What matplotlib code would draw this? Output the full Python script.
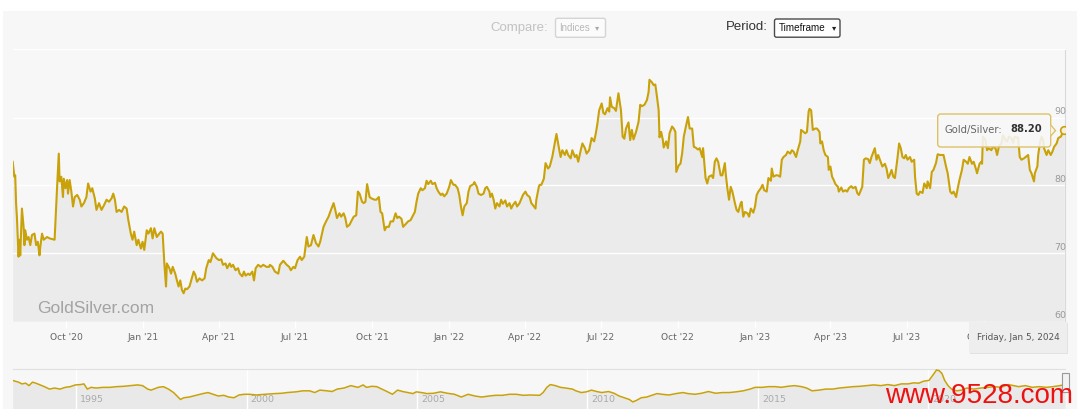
import numpy as np
import matplotlib
matplotlib.use('Agg')
import matplotlib.pyplot as plt
from matplotlib.patches import Rectangle, FancyBboxPatch, Polygon
from matplotlib.transforms import Affine2D

W, H = 1080, 409
GOLD = '#c9a20a'
plt.rcParams['font.family'] = ['DejaVu Sans']

# gold/silver ratio, days counted from start
start = np.datetime64('2020-07-29')
days_1 = [0, 2, 3, 4, 5, 7, 8, 9, 11, 13, 14, 15, 17, 19, 21, 23, 26, 28, 30, 32, 33, 35, 37, 41, 44,
          50, 52, 53, 55, 56, 58, 60, 61, 63, 65, 66, 68, 70, 72, 74, 77, 80, 82, 85, 88, 90, 93, 95,
          98, 100, 103, 106, 109, 112, 115, 118, 120, 122, 124, 127, 130, 133, 136, 138, 141, 143,
          145, 148, 150, 153, 155, 157, 160, 162, 165, 167, 169, 172, 175, 177, 179, 181, 183, 184,
          187, 189, 191, 194, 196, 198, 200, 202, 204, 206, 208, 211, 213, 216, 218, 220, 223, 226,
          229, 231, 234, 236, 239, 243, 246, 249, 251, 254, 256, 259, 261, 263, 266, 269, 271, 274,
          276, 278, 281, 283, 286, 288, 290, 293, 296, 299, 303, 306]
ratio_1 = [83.5, 81.3, 81.5, 77.4, 75.4, 69.5, 72, 69.7, 76.6, 73.9, 71.2, 73.4, 72, 72.4, 71.2, 72.7,
           72.9, 71.2, 71.7, 69.7, 71, 72.9, 72, 72.4, 72.2,
           72, 77.4, 79.8, 84.7, 80.6, 81.3, 78.3, 81, 79.6, 80.8, 78.8, 80.8, 79.1, 76.9, 78.3, 78.6,
           77.9, 76.9, 77.4, 78.3, 80.3, 79.1, 79.6,
           78.1, 76.4, 77.4, 76.4, 77.1, 77.9, 77.6, 78.1, 78.8, 77.9, 76.1, 76.4, 76.1, 76.9, 76.6,
           74.9, 72.9, 72,
           73.2, 71.2, 72, 70.7, 71.7, 70.5, 73.4, 72.9, 73.7, 72.2, 73.7, 72.4, 72.9, 73.2, 72.9,
           68.5, 65.1, 68.5,
           67.8, 67, 68, 67, 66, 65.1, 66, 64.6, 64.1, 64.8, 64.7, 65.1, 66, 67.3, 66.8, 65.8, 66.3, 66,
           66.3, 67.8, 69, 68.7, 70, 69.3, 69, 69.1, 68.3, 68.5, 67.8, 68.5, 68, 68.3, 67.5, 67.8, 67,
           66.6,
           67.3, 66.7, 67, 66.8, 67.3, 66, 67.8, 68.3, 68, 68.3, 68, 68]

days_2 = [307, 310, 313, 317, 319, 323, 327, 330, 332, 335, 337, 340, 343, 345, 348, 351, 353, 356,
          359, 362, 365, 367, 371, 374, 377, 379, 383, 385, 387, 390, 392, 395, 397, 399, 402, 404,
          407, 410, 412, 414, 417, 419, 421, 423, 426, 428, 432, 434, 437, 439, 441, 444, 446, 449,
          451, 454, 457, 459, 461, 464, 466, 469, 472, 475, 477, 480, 482, 484, 487, 489, 492, 494,
          496, 499, 501, 504, 506, 508, 511, 513, 515, 518, 521, 523, 526, 528, 531, 533, 535, 537,
          539, 542, 544, 546, 550, 551, 554, 556, 559, 562, 564, 566, 569, 570, 572, 574, 576, 578,
          581, 583, 585, 588, 590, 593, 595, 597, 600, 602, 605, 607, 609, 612, 614, 617, 619, 621,
          624, 625, 628, 629]
ratio_2 = [68.3, 68, 67.3, 67, 68.3, 68.9, 68.3, 68, 67.5, 68, 67.8, 69, 69.5, 69, 69.5, 72.4, 71, 71.2,
           72.7, 71.5, 71, 71.7, 73.9, 74.7, 75.4, 76.1, 77.4, 76.4, 75.2, 75.9, 75.4, 75.9, 75.2,
           73.9, 74.2, 74.7,
           75.4, 75.6, 79.1, 78.8, 77.6, 77.4, 77.6, 80.2, 78.3, 78.1, 77.9, 77.9, 78.3, 76.1, 75.9,
           73.4, 73.9, 73.9,
           74.7, 74.7, 75.9, 75.2, 75.4, 75.1, 73.9, 74.3, 74.7, 74.9, 75.4, 76.1, 77.6, 78.8, 79.6,
           79.3, 79.6, 80.7,
           80.2, 80.7, 80.2, 80.4, 79.6, 79.1, 78.6, 78.8, 78.4, 78.8, 79.8, 80.8, 80.1, 80.1, 79.6,
           78.6, 76.9, 75.6,
           76.9, 77.4, 79.1, 79.9, 80.2, 80.5, 79.8, 78.8, 78.6, 78.8, 79.6, 79.8, 79.1, 78.3, 78.8,
           77.9, 76.6, 77.4,
           76.9, 77.9, 77.3, 77.8, 76.9, 77.4, 76.6, 77.1, 77.6, 76.9, 77.4, 78, 78.6, 79.1, 78.6,
           78.3, 77.4, 77.1,
           76.6, 77.9, 79.8, 80.1]

days_3 = [631, 634, 636, 639, 641, 644, 647, 649, 652, 654, 656, 659, 661, 663, 666, 668, 671, 673,
          675, 678, 680, 683, 685, 688, 691, 694, 696, 698, 700, 703, 705, 707, 710, 712, 713, 715,
          718, 720, 723, 726, 728, 730, 732, 735, 737, 739, 741, 744, 747, 749, 751, 754, 757, 759,
          760, 763, 765, 767, 769, 771, 772, 774, 776, 777, 780, 782, 784, 787, 789, 791, 792, 795,
          797, 799, 801, 803, 806, 808, 811, 813, 815, 818, 820, 823, 824, 827, 829, 831, 834, 836,
          838, 840, 842, 845, 847, 850, 851, 853, 855, 857, 859, 862, 864, 866, 869, 870, 872, 874,
          877, 879, 881, 884, 886, 888, 890, 893, 895, 897, 900, 902, 905, 906, 908, 911, 913, 916,
          918, 920, 923, 925, 928, 930, 932, 935, 937, 940, 941, 944, 946, 948, 950]
ratio_3 = [80.1, 81, 83.3, 82.5, 82.8, 84.2, 86.2, 87.6, 85.5, 84.2, 85.2, 84.5, 85.2, 84.5, 84, 85.2,
           84.2, 84.5,
           83.5, 85.2, 86.2, 85.5, 84.7, 85.2, 87, 86.5, 87.7, 89.2, 91.1, 92.1, 90.7, 90.5, 91.4,
           90.9, 93, 91.6,
           91.4, 91, 93.6, 91.1, 87.2, 86.9, 88.4, 89.3, 86.7, 88.2, 86.8, 87.9, 89.4, 91.9, 91.7,
           91.9, 92.6, 93.8,
           95.6, 95.2, 94.8, 94.9, 93.1, 91.1, 87.1, 87.9, 86.7, 85.6, 86.5, 85.5, 87.7, 88.7, 88.4,
           87.9, 82, 83,
           83.2, 84.7, 87.2, 88.4, 90.1, 88.4, 88.4, 85.7, 85.6, 85.3, 85.5, 84.2, 85.5, 81.1, 80.3,
           81.3, 81.5, 81.1,
           83.5, 84, 83.5, 81.5, 81.5, 83.3, 81.8, 79.6, 77.9, 79.8, 79.1, 77.4, 76.4, 76.1, 77.4,
           77.6, 75.4, 76.1,
           75.9, 75.4, 76.6, 76, 76.9, 78.6, 79.1, 79.6, 80.1, 79.3, 79.1, 81.1, 80.7, 82.5, 81.3,
           81.5, 81.5, 81.3,
           83.8, 84.2, 84.5, 85, 84.7, 85.2, 85, 84.2, 85.2, 86.5, 88.2, 87.9, 87.7, 87.9, 90.9]

days_4 = [951, 953, 955, 958, 960, 963, 964, 966, 968, 970, 973, 974, 976, 978, 980, 982, 985, 986,
          989, 991, 994, 996, 998, 1001, 1003, 1006, 1008, 1010, 1012, 1014, 1016, 1018, 1021, 1023,
          1025, 1028, 1029, 1031, 1033, 1036, 1038, 1041, 1043, 1045, 1047, 1049, 1051, 1053, 1056,
          1058, 1060, 1062, 1064, 1066, 1068, 1071, 1073, 1076, 1077, 1079, 1081, 1083, 1086, 1088,
          1091, 1092, 1095, 1097, 1099, 1102, 1104, 1107, 1109, 1111, 1114, 1116, 1119, 1121, 1123,
          1126, 1128, 1130, 1133, 1135, 1138, 1140, 1142, 1145, 1147, 1150, 1151, 1154, 1156, 1157,
          1158, 1161, 1163, 1165, 1168, 1170, 1173, 1175, 1177, 1180, 1182, 1185, 1187, 1189, 1192,
          1194, 1196, 1199, 1200, 1202, 1204, 1207, 1209, 1212, 1214, 1216, 1219, 1220, 1223, 1224,
          1226, 1228, 1230, 1231, 1234, 1236, 1239, 1241, 1243, 1246, 1248, 1251, 1253, 1255]
ratio_4 = [91.3, 91.1, 88.2, 88.4, 88.4, 87.9, 86.2, 86.5, 85.2, 84.5, 84.2, 82.3, 82.8, 81.3, 80.8,
           80.2, 79.8, 79.1,
           79.7, 79.1, 79.3, 79.1, 79.6, 79.9, 79.6, 79.8, 78.9, 78.6, 79.2, 79.8, 83.8, 84, 83.9,
           83.3,
           84.2, 85.2, 85.5, 83.8, 84.5, 83.5, 82.8, 83.2, 82.5, 81.1, 81.6, 82.3, 81.3, 81.1, 84,
           86.2, 85.5, 84.2, 84, 84.5, 83.8, 84.2, 83.5, 83.8, 81.3, 78.8, 78.6, 79.1, 78.9, 80.3,
           79.6, 80.6, 79.6, 82, 82.3, 83.3, 84.6, 84.5, 84.5, 84.5, 82.8, 81.8, 79.1, 78.8, 79.1,
           78.3, 79.6, 80.8, 82.3, 83.8, 83.5, 83.2, 84.2, 83.2, 83.5, 82.3, 81.8, 83.2, 83.5, 83.2,
           87.2, 86.7, 85.2, 85.5, 85.2, 85.7, 85.5, 84.5, 85.7, 86.2, 87.4, 86.7, 86.5, 87.2, 87,
           86.3, 87.2, 87, 87.1, 84.2, 83.8, 84, 84.2, 84.5, 82.3, 81.8, 80.6, 81.8, 82.8, 84.5,
           86.2, 87.2, 86.7, 85.5, 84.5, 85.2, 84.5, 85, 85.7, 86.2, 87, 87.2, 87.7, 88.2]

quarters = ['2020-10-01', '2021-01-01', '2021-04-01', '2021-07-01', '2021-10-01', '2022-01-01',
            '2022-04-01', '2022-07-01', '2022-10-01', '2023-01-01', '2023-04-01', '2023-07-01',
            '2023-10-01']
quarter_labels = ["Oct '20", "Jan '21", "Apr '21", "Jul '21", "Oct '21", "Jan '22", "Apr '22",
                  "Jul '22", "Oct '22", "Jan '23", "Apr '23", "Jul '23", "Oct '23"]
y_ticks = [60, 70, 80, 90]

# navigator (long history), decimal years
nav_year = [1993.14, 1993.31, 1993.41, 1993.52, 1993.62, 1993.72, 1993.82, 1993.92, 1994.07, 1994.22,
            1994.37, 1994.53, 1994.68, 1994.83, 1994.98, 1995.13, 1995.23, 1995.33, 1995.44, 1995.59,
            1995.79, 1995.99, 1996.19, 1996.40, 1996.60, 1996.80, 1996.95, 1997.10, 1997.20, 1997.41,
            1997.56, 1997.71, 1997.86, 1997.96, 1998.06, 1998.16, 1998.32, 1998.52, 1998.72, 1998.87,
            1999.02, 1999.17, 1999.33, 1999.48, 1999.63, 1999.78, 1999.93, 2000.08, 2000.29, 2000.54,
            2000.84, 2001.04, 2001.19, 2001.45, 2001.65, 2001.85, 2002.00, 2002.15, 2002.36, 2002.51,
            2002.66, 2002.86, 2003.06, 2003.27, 2003.42, 2003.52, 2003.67, 2003.82, 2003.97, 2004.12,
            2004.28, 2004.43, 2004.58, 2004.73, 2004.88, 2004.98, 2005.13, 2005.29, 2005.49, 2005.69,
            2005.89, 2006.10, 2006.30, 2006.50, 2006.70, 2006.90, 2007.11, 2007.31, 2007.51, 2007.71,
            2007.91, 2008.12, 2008.32, 2008.60, 2008.70, 2008.81, 2008.91, 2009.06, 2009.21, 2009.36,
            2009.56, 2009.66, 2009.82, 2009.97, 2010.12, 2010.27, 2010.42, 2010.62, 2010.78, 2010.93,
            2011.08, 2011.23, 2011.33, 2011.43, 2011.58, 2011.74, 2011.89, 2012.04, 2012.19, 2012.39,
            2012.60, 2012.80, 2012.95, 2013.15, 2013.35, 2013.55, 2013.76, 2013.96, 2014.16, 2014.36,
            2014.57, 2014.77, 2014.92, 2015.12, 2015.32, 2015.52, 2015.68, 2015.88, 2016.08, 2016.28,
            2016.43, 2016.59, 2016.79, 2016.99, 2017.19, 2017.39, 2017.60, 2017.80, 2018.00, 2018.20,
            2018.40, 2018.61, 2018.81, 2019.01, 2019.21, 2019.41, 2019.57, 2019.72, 2019.87, 2020.02,
            2020.17, 2020.24, 2020.32, 2020.40, 2020.48, 2020.58, 2020.68, 2020.83, 2020.98, 2021.13,
            2021.33, 2021.54, 2021.74, 2021.94, 2022.14, 2022.35, 2022.50, 2022.65, 2022.85, 2023.05,
            2023.25, 2023.46, 2023.66, 2023.86, 2024.01]
nav_ratio = [102.1, 96.7, 91.3, 93.5, 85.9, 96.7, 93.5, 89.2, 82.7, 75.1,
             78.4, 75.1, 80.5, 82.7, 88.1, 89.2, 91.3, 75.1, 80.5, 78.4,
             80.5, 80.5, 82.7, 83.8, 85.9, 88.1, 85.9, 75.1, 71.9, 80.5,
             82.7, 75.1, 64.3, 53.5, 42.7, 48.1, 50.3, 55.7, 61.1, 64.3,
             58.9, 53.5, 55.7, 50.3, 48.1, 56.7, 58.9, 58.9, 56.7, 58.9,
             61.1, 62.1, 64.3, 66.5, 69.7, 69.7, 64.3, 71.9, 69.7, 67.5,
             75.1, 78.4, 85.9, 80.5, 88.1, 80.5, 83.8, 82.7, 75.1, 67.5,
             58.9, 71.9, 67.5, 64.3, 61.1, 66.5, 64.3, 61.1, 62.1, 66.5,
             62.1, 58.9, 50.3, 58.9, 53.5, 50.3, 53.5, 55.7, 55.7, 58.9,
             58.9, 55.7, 56.7, 55.7, 64.3, 80.5, 89.2, 85.9, 80.5, 78.4,
             75.1, 69.7, 64.3, 66.5, 71.9, 67.5, 64.3, 67.5, 62.1, 53.5,
             48.1, 42.7, 35.1, 39.4, 48.1, 50.3, 55.7, 61.1, 58.9, 56.7,
             61.1, 64.3, 61.1, 58.9, 62.1, 67.5, 62.1, 64.3, 64.3, 66.5,
             69.7, 75.1, 80.5, 80.5, 82.7, 82.7, 80.5, 83.8, 85.9, 82.7,
             78.4, 69.7, 71.9, 75.1, 75.1, 78.4, 80.5, 82.7, 83.8, 85.9,
             88.1, 85.9, 89.2, 85.9, 91.3, 91.3, 94.6, 93.5, 100.0, 102.1,
             123.8, 134.6, 132.4, 123.8, 102.1, 85.9, 75.1, 69.7, 71.9, 78.4,
             75.1, 78.4, 80.5, 82.7, 80.5, 89.2, 85.9, 82.7, 85.9, 80.5,
             82.7, 80.5, 82.7, 85.9, 89.2]
nav_ticks = [1995, 2000, 2005, 2010, 2015, 2020]

days = np.array(days_1 + days_2 + days_3 + days_4)
ratio = np.array(ratio_1 + ratio_2 + ratio_3 + ratio_4)
dates = start + days.astype('timedelta64[D]')

fig = plt.figure(figsize=(W / 100, H / 100), dpi=100)
fig.patch.set_facecolor('white')
pix = Affine2D().scale(1 / W, -1 / H).translate(0, 1) + fig.transFigure


def box(x0, y0, x1, y1):
    return [x0 / W, 1 - y1 / H, (x1 - x0) / W, (y1 - y0) / H]


# grey panel behind everything
fig.patches.append(Rectangle((3, 11), 1074, 400, transform=pix, facecolor='#f7f7f7',
                             edgecolor='none', zorder=-5))

# main chart
ax = fig.add_axes(box(12.7, 49, 1065, 321.1))
ax.set_facecolor('none')
ax.fill_between(dates, ratio, 60, color='#ebebeb', lw=0, zorder=1)
for v in y_ticks[1:]:
    ax.axhline(v, color='white', lw=1, zorder=1.5)
ax.plot(dates, ratio, color=GOLD, lw=1.5, zorder=3, solid_joinstyle='round')
ax.plot(dates[-1], ratio[-1], 'o', ms=5.5, mfc='#f5f0dc', mec=GOLD, mew=1.2, zorder=4)
ax.set_xlim(start, start + np.timedelta64(1256, 'D'))
ax.set_ylim(60, 100.13)
for s in ['left', 'bottom']:
    ax.spines[s].set_visible(False)
ax.spines['top'].set_color('white')
ax.spines['right'].set_color('#d9d9d9')
ax.set_xticks(np.array(quarters, dtype='datetime64[D]'))
ax.set_xticklabels(quarter_labels)
ax.tick_params(axis='x', length=5, width=1, color='white', labelcolor='#666666',
               labelsize=6.6, pad=3.5)
ax.set_yticks([])
for v in y_ticks:
    ax.annotate(str(v), xy=(1, v), xycoords=('axes fraction', 'data'), xytext=(1, 6),
                textcoords='offset pixels', ha='right', va='center', fontsize=6.8, color='#999999')

fig.text(37, 313, 'GoldSilver.com', transform=pix, va='baseline', ha='left', fontsize=12.5,
         color='#a3a3a3', family='Liberation Sans')

# tooltip with last value
fig.patches.append(FancyBboxPatch((937.7, 114), 113, 33, boxstyle='round,pad=0,rounding_size=3',
                                  transform=pix, facecolor=(0.97, 0.97, 0.97, 0.88),
                                  edgecolor='#dcc266', lw=1, zorder=5))
fig.patches.append(Polygon([(1050.7, 125), (1055.5, 130.6), (1050.7, 136)], closed=False,
                           transform=pix, facecolor=(0.97, 0.97, 0.97, 0.88), edgecolor='#dcc266',
                           lw=1, zorder=5))
fig.text(944.6, 129.5, 'Gold/Silver:', transform=pix, va='center', ha='left', fontsize=7.2,
         color='#666666', zorder=6)
fig.text(1010.7, 129.5, f'{ratio[-1]:.2f}', transform=pix, va='center', ha='left', fontsize=7.2,
         color='#333333', fontweight='bold', zorder=6)

# date label box on the x axis
fig.patches.append(Rectangle((970, 323), 98, 31, transform=pix, facecolor='#e2e2e2',
                             edgecolor='none', zorder=4))
fig.patches.append(Rectangle((969, 322), 98, 31, transform=pix, facecolor='#eeeeee',
                             edgecolor='none', zorder=5))
fig.text(1018, 337.5, 'Friday, Jan 5, 2024', transform=pix, va='center', ha='center',
         fontsize=6.4, color='#555555', zorder=6)

# header controls
fig.text(548, 27.5, 'Compare:', transform=pix, va='center', ha='right', fontsize=9.5,
         color='#c2c2c2', family='Liberation Sans')
fig.patches.append(FancyBboxPatch((555.5, 18.3), 50, 19, boxstyle='round,pad=0,rounding_size=2',
                                  transform=pix, facecolor='#fbfbfb', edgecolor='#d4d4d4', lw=1))
fig.text(559.5, 28, 'Indices', transform=pix, va='center', ha='left', fontsize=7,
         color='#b8b8b8', family='Liberation Sans')
fig.text(597, 27.5, '▾', transform=pix, va='center', ha='center', fontsize=6, color='#aaaaaa')
fig.text(768, 27.5, 'Period:', transform=pix, va='center', ha='right', fontsize=9.5,
         color='#333333', family='Liberation Sans')
fig.patches.append(FancyBboxPatch((774.5, 19), 65.5, 18.2, boxstyle='round,pad=0,rounding_size=2',
                                  transform=pix, facecolor='white', edgecolor='#4a4a4a', lw=1))
fig.text(778.6, 28.2, 'Timeframe', transform=pix, va='center', ha='left', fontsize=7.1,
         color='#111111', family='Liberation Sans')
fig.text(834, 27.5, '▾', transform=pix, va='center', ha='center', fontsize=6, color='#222222')

# navigator
nav = fig.add_axes(box(12.7, 368.6, 1065, 409))
nav.set_facecolor('none')
nav.fill_between(nav_year, nav_ratio, 0, color='#e9e9e9', lw=0, zorder=1)
for yr in nav_ticks:
    nav.axvline(yr, color='white', lw=1, zorder=1.5)
    nav.annotate(str(yr), xy=(yr, 0), xycoords=('data', 'axes fraction'), xytext=(4, 7),
                 textcoords='offset pixels', ha='left', va='baseline', fontsize=6.8,
                 color='#aaaaaa')
nav.plot(nav_year, nav_ratio, color=GOLD, lw=1.1, zorder=3)
nav.set_xlim(nav_year[0], 2024.01)
nav.set_ylim(13, 139)
for s in ['left', 'bottom', 'right']:
    nav.spines[s].set_visible(False)
nav.spines['top'].set_color('#e0e0e0')
nav.set_xticks([])
nav.set_yticks([])
fig.patches.append(Rectangle((1062, 373), 7, 19, transform=pix, facecolor='#f2f2f2',
                             edgecolor='#999999', lw=0.8, zorder=6))

fig.text(885, 403, 'www.9528.com', transform=pix, va='baseline', ha='left', fontsize=20,
         color='#ee1111', family='Liberation Sans', zorder=10)

fig.savefig('out.png', dpi=100)
